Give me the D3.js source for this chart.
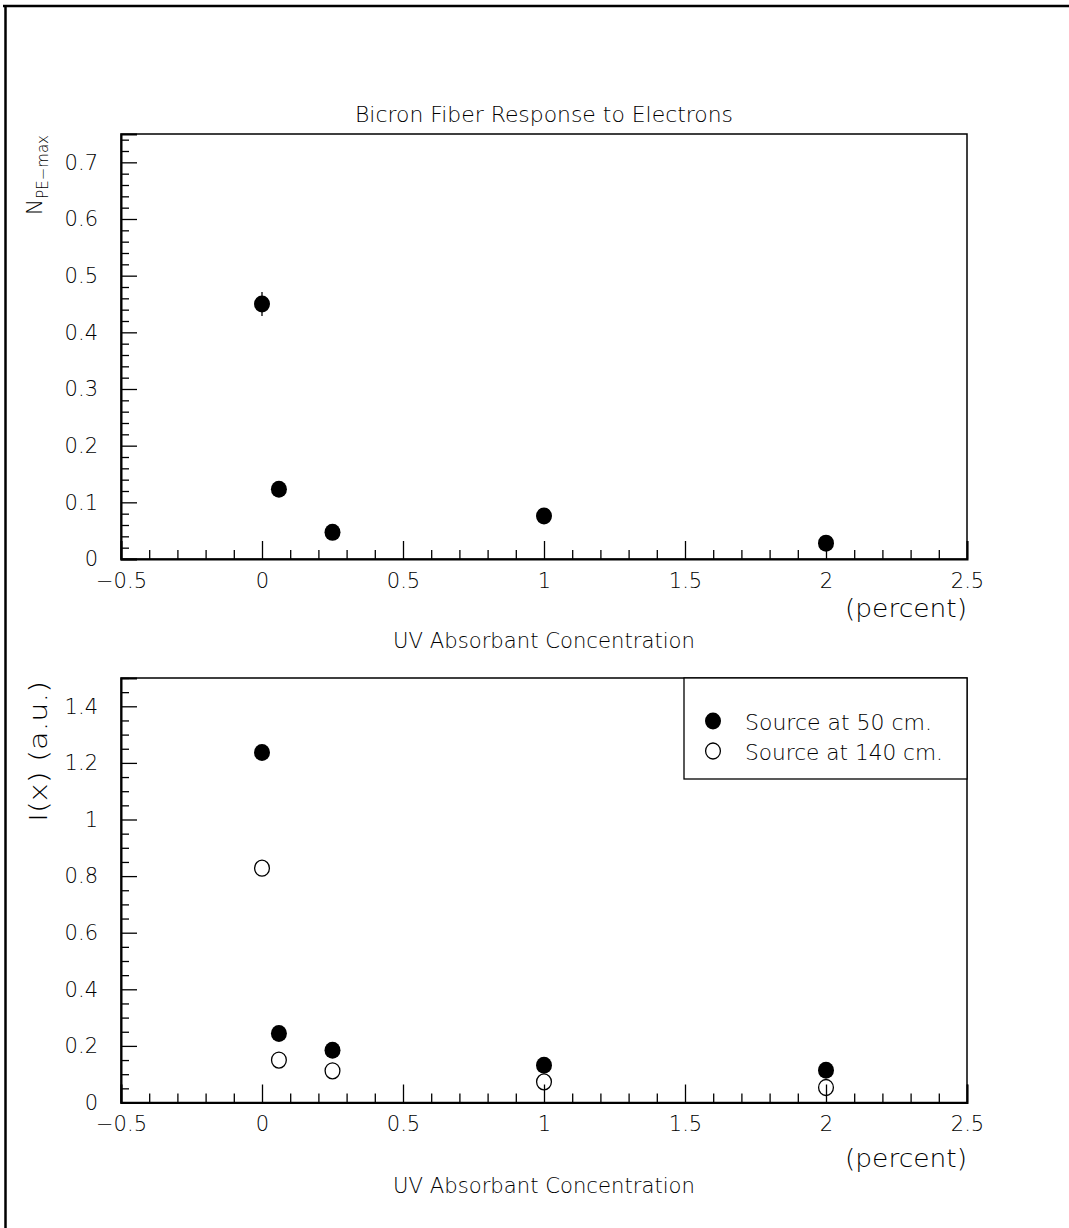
<!DOCTYPE html>
<html>
<head>
<meta charset="utf-8">
<script src="https://cdn.jsdelivr.net/npm/d3@7"></script>
<style>
  html, body { margin: 0; padding: 0; background: #fff; }
  svg text { font-family: "DejaVu Sans", "Liberation Sans", sans-serif; font-weight: 200; fill: #000; }
</style>
</head>
<body>
<svg id="chart" width="1069" height="1228"></svg>
<script>
// ---------- data ----------
const concentration = [0, 0.06, 0.25, 1, 2];
const npeMax = [0.45, 0.123, 0.047, 0.076, 0.028];
const npeErr = [0.021, 0.005, 0.004, 0.005, 0.004];
const source50 = [1.237, 0.244, 0.185, 0.132, 0.114];
const source140 = [0.828, 0.150, 0.112, 0.073, 0.053];
const seriesNames = ["Source at 50 cm.", "Source at 140 cm."];
const xTickLabels = ["\u22120.5", "0", "0.5", "1", "1.5", "2", "2.5"];
const xTickValues = [-0.5, 0, 0.5, 1, 1.5, 2, 2.5];
const yTopTickValues = [0, 0.1, 0.2, 0.3, 0.4, 0.5, 0.6, 0.7];
const yTopTickLabels = ["0", "0.1", "0.2", "0.3", "0.4", "0.5", "0.6", "0.7"];
const yBotTickValues = [0, 0.2, 0.4, 0.6, 0.8, 1, 1.2, 1.4];
const yBotTickLabels = ["0", "0.2", "0.4", "0.6", "0.8", "1", "1.2", "1.4"];
const title = "Bicron Fiber Response to Electrons";
const xTitle = "UV Absorbant Concentration";
const xUnit = "(percent)";

// ---------- layout ----------
const svg = d3.select("#chart");
const L = 121, R = 967;
const top1 = 134, bot1 = 559;
const top2 = 678, bot2 = 1102.5;
const r = 8;

// outer frame (only top and left visible)
svg.append("line").attr("x1", 3).attr("x2", 1069).attr("y1", 6).attr("y2", 6)
  .attr("stroke", "#000").attr("stroke-width", 2.5);
svg.append("line").attr("x1", 5.5).attr("x2", 5.5).attr("y1", 5).attr("y2", 1228)
  .attr("stroke", "#000").attr("stroke-width", 2.5);

const x = d3.scaleLinear().domain([-0.5, 2.5]).range([L, R]);
const yTop = d3.scaleLinear().domain([0, 0.75]).range([bot1, top1]);
const yBot = d3.scaleLinear().domain([0, 1.5]).range([bot2, top2]);

function range(a, b, step) {
  const out = [];
  const n = Math.floor((b - a) / step + 1e-6);
  for (let i = 0; i <= n; i++) out.push(+(a + i * step).toFixed(4));
  return out;
}

function drawPanel(y, yTop0, yBot0, yTicks, yLabels, yMinorStep) {
  const g = svg.append("g");
  // frame
  g.append("rect").attr("x", L).attr("y", yTop0).attr("width", R - L).attr("height", yBot0 - yTop0)
    .attr("fill", "none").attr("stroke", "#000").attr("stroke-width", 1.5);

  // x minor ticks
  const xMinor = range(-0.5, 2.5, 0.1).filter(v => !xTickValues.some(t => Math.abs(t - v) < 1e-6));
  g.append("g").attr("transform", `translate(0,${yBot0})`)
    .call(d3.axisBottom(x).tickValues(xMinor).tickSize(-9).tickFormat(""))
    .call(s => s.select(".domain").remove());
  // x major ticks + labels
  const xa = g.append("g").attr("transform", `translate(0,${yBot0})`)
    .call(d3.axisBottom(x).tickValues(xTickValues).tickSize(-18).tickPadding(14)
      .tickFormat((d, i) => xTickLabels[i]));
  xa.select(".domain").attr("stroke-width", 2);

  // y minor ticks
  const yMax = y.domain()[1];
  const yMinor = range(0, yMax, yMinorStep)
    .filter(v => v <= yMax + 1e-9 && !yTicks.some(t => Math.abs(t - v) < 1e-6));
  g.append("g").attr("transform", `translate(${L},0)`)
    .call(d3.axisLeft(y).tickValues(yMinor).tickSize(-8).tickFormat(""))
    .call(s => s.select(".domain").remove());
  const ya = g.append("g").attr("transform", `translate(${L},0)`)
    .call(d3.axisLeft(y).tickValues(yTicks).tickSize(-16).tickPadding(23)
      .tickFormat((d, i) => yLabels[i]));
  ya.select(".domain").attr("stroke-width", 2);

  g.selectAll(".tick line").attr("stroke", "#000").attr("stroke-width", 1.3);
  g.selectAll(".tick text").attr("font-size", 21).style("font-family", "DejaVu Sans, sans-serif")
    .style("font-weight", 200);
  g.selectAll(".domain").attr("stroke", "#000");
  return g;
}

// ---------- top panel ----------
drawPanel(yTop, top1, bot1, yTopTickValues, yTopTickLabels, 0.02);

svg.append("text").attr("x", (L + R) / 2).attr("y", 122).attr("text-anchor", "middle")
  .attr("font-size", 21).attr("textLength", 378).attr("lengthAdjust", "spacingAndGlyphs").text(title);

// error bars
svg.append("g").selectAll("line").data(concentration).join("line")
  .attr("x1", d => x(d)).attr("x2", d => x(d))
  .attr("y1", (d, i) => yTop(npeMax[i] - npeErr[i]))
  .attr("y2", (d, i) => yTop(npeMax[i] + npeErr[i]))
  .attr("stroke", "#000").attr("stroke-width", 1.3);
svg.append("g").selectAll("ellipse").data(concentration).join("ellipse")
  .attr("cx", d => x(d)).attr("cy", (d, i) => yTop(npeMax[i]))
  .attr("rx", r).attr("ry", r + 0.5).attr("fill", "#000");

svg.append("text").attr("x", 845).attr("y", 617)
  .attr("font-size", 24).attr("textLength", 122).attr("lengthAdjust", "spacingAndGlyphs").text(xUnit);
svg.append("text").attr("x", 393).attr("y", 648)
  .attr("font-size", 21).attr("textLength", 302).attr("lengthAdjust", "spacingAndGlyphs").text(xTitle);

// y label top: N_{PE-max}
const yl1 = svg.append("text").attr("transform", `translate(42,${top1 + 1}) rotate(-90)`)
  .attr("text-anchor", "end");
yl1.append("tspan").attr("font-size", 22).text("N");
yl1.append("tspan").attr("font-size", 15).attr("dy", 6).text("PE\u2212max");

// ---------- bottom panel ----------
drawPanel(yBot, top2, bot2, yBotTickValues, yBotTickLabels, 0.05);

svg.append("g").selectAll("ellipse").data(concentration).join("ellipse")
  .attr("cx", d => x(d)).attr("cy", (d, i) => yBot(source50[i]))
  .attr("rx", r).attr("ry", r + 0.5).attr("fill", "#000");
svg.append("g").selectAll("ellipse").data(concentration).join("ellipse")
  .attr("cx", d => x(d)).attr("cy", (d, i) => yBot(source140[i]))
  .attr("rx", r - 0.6).attr("ry", r).attr("fill", "none").attr("stroke", "#000").attr("stroke-width", 1.3);

svg.append("text").attr("x", 845).attr("y", 1167)
  .attr("font-size", 24).attr("textLength", 122).attr("lengthAdjust", "spacingAndGlyphs").text(xUnit);
svg.append("text").attr("x", 393).attr("y", 1193)
  .attr("font-size", 21).attr("textLength", 302).attr("lengthAdjust", "spacingAndGlyphs").text(xTitle);

svg.append("text").attr("transform", `translate(47,822) rotate(-90)`)
  .attr("font-size", 25).attr("textLength", 141).attr("lengthAdjust", "spacingAndGlyphs").text("I(x) (a.u.)");

// legend
const lg = svg.append("g");
lg.append("rect").attr("x", 684).attr("y", top2).attr("width", R - 684).attr("height", 779 - top2)
  .attr("fill", "#fff").attr("stroke", "#000").attr("stroke-width", 1.3);
const legendY = [721, 751];
const legendW = [187, 198];
lg.selectAll("ellipse").data(seriesNames).join("ellipse")
  .attr("cx", 713).attr("cy", (d, i) => legendY[i])
  .attr("rx", (d, i) => i === 0 ? r : r - 0.6).attr("ry", (d, i) => i === 0 ? r + 0.5 : r)
  .attr("fill", (d, i) => i === 0 ? "#000" : "none")
  .attr("stroke", "#000").attr("stroke-width", (d, i) => i === 0 ? 0 : 1.3);
lg.selectAll("text").data(seriesNames).join("text")
  .attr("x", 745).attr("y", (d, i) => legendY[i] + 9)
  .attr("font-size", 21).attr("textLength", (d, i) => legendW[i]).attr("lengthAdjust", "spacingAndGlyphs")
  .text(d => d);
</script>
</body>
</html>
